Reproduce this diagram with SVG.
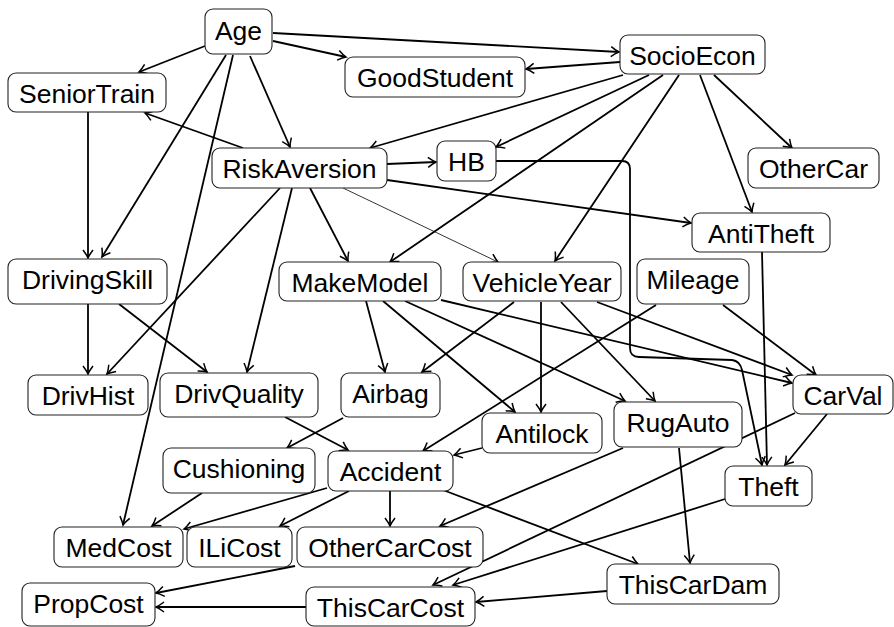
<svg xmlns="http://www.w3.org/2000/svg" width="894" height="627" viewBox="0 0 894 627">
<style>
.n rect{fill:#fff;stroke:#222;stroke-width:1.1}
.n text{font-family:"Liberation Sans",Arial,sans-serif;font-size:26.5px;text-anchor:middle;fill:#000}
.e path{fill:none;stroke:#000;stroke-width:1.8;marker-end:url(#a)}
.e path.thin{stroke-width:0.8}
</style>
<defs>
<marker id="a" viewBox="-10 -6 12 12" refX="0" refY="0" markerWidth="12" markerHeight="12" markerUnits="userSpaceOnUse" orient="auto">
<path d="M-8,-5 Q-3,-1.2 0,0 Q-3,1.2 -8,5" fill="none" stroke="#000" stroke-width="1.5"/>
</marker>
</defs>
<rect width="894" height="627" fill="#fff"/>
<g class="e" id="edges">
<path d="M205,46 L139,72"/>
<path d="M273,41 L346,57"/>
<path d="M273,33 L619,52"/>
<path d="M250,56 L290,147"/>
<path d="M226,55 L102,257"/>
<path d="M233,55 L123,525"/>
<path d="M243,148 L145,113"/>
<path d="M620,62 L526,69"/>
<path d="M623,75 L370,148"/>
<path d="M649,75 L496,147"/>
<path d="M663,75 L390,262"/>
<path d="M679,75 L555,261"/>
<path d="M700,75 L752,212"/>
<path d="M714,75 L792,148"/>
<path d="M387,164 L436,162"/>
<path d="M387,180 L691,223"/>
<path class="thin" d="M343,188 L498,262"/>
<path d="M310,188 L348,261"/>
<path d="M292,188 L247,372"/>
<path d="M280,188 L107,374"/>
<path d="M88,112 L88,258"/>
<path d="M88,304 L88,374"/>
<path d="M119,304 L207,372"/>
<path d="M496,161 L622,161 Q630,161 630,169 L630,348 Q630,357 639,357 L732,360 Q740,361 742,370 L762,465"/>
<path d="M366,301 L385,372"/>
<path d="M383,301 L515,412"/>
<path d="M405,301 L625,401"/>
<path d="M441,300 L792,383"/>
<path d="M597,302 L792,375"/>
<path d="M723,305 L816,375"/>
<path d="M656,305 L423,451"/>
<path d="M514,302 L422,372"/>
<path d="M541,302 L541,412"/>
<path d="M561,302 L655,401"/>
<path d="M482,448 L454,455"/>
<path d="M285,417 L348,450"/>
<path d="M343,418 L287,448"/>
<path d="M202,493 L152,526"/>
<path d="M327,488 L184,529"/>
<path d="M349,491 L280,526"/>
<path d="M390,491 L390,526"/>
<path d="M443,490 L638,564"/>
<path d="M623,448 L440,526"/>
<path d="M679,448 L690,563"/>
<path d="M827,414 L785,465"/>
<path d="M795,413 L433,585"/>
<path d="M725,499 L453,585"/>
<path d="M607,591 L476,602"/>
<path d="M306,607 L156,607"/>
<path d="M295,566 L156,593"/>
<path d="M762,252 L767,465"/>
</g>
<g class="n" id="Age"><rect x="205" y="9" width="67" height="45" rx="8"/><text x="238.5" y="40">Age</text></g>
<g class="n" id="SeniorTrain"><rect x="8" y="73" width="158" height="39" rx="8"/><text x="87" y="103">SeniorTrain</text></g>
<g class="n" id="GoodStudent"><rect x="345" y="57" width="180" height="40" rx="8"/><text x="435" y="87">GoodStudent</text></g>
<g class="n" id="SocioEcon"><rect x="620" y="35" width="145" height="39" rx="8"/><text x="692.5" y="65">SocioEcon</text></g>
<g class="n" id="RiskAversion"><rect x="212" y="148" width="175" height="40" rx="8"/><text x="299.5" y="178">RiskAversion</text></g>
<g class="n" id="HB"><rect x="437" y="141" width="59" height="40" rx="8"/><text x="466.5" y="171">HB</text></g>
<g class="n" id="OtherCar"><rect x="748" y="148" width="131" height="40" rx="8"/><text x="813.5" y="178">OtherCar</text></g>
<g class="n" id="AntiTheft"><rect x="692" y="213" width="138" height="39" rx="8"/><text x="761" y="243">AntiTheft</text></g>
<g class="n" id="DrivingSkill"><rect x="8" y="259" width="159" height="45" rx="8"/><text x="87.5" y="289">DrivingSkill</text></g>
<g class="n" id="MakeModel"><rect x="279" y="262" width="162" height="39" rx="8"/><text x="360" y="292">MakeModel</text></g>
<g class="n" id="VehicleYear"><rect x="463" y="262" width="158" height="39" rx="8"/><text x="542" y="292">VehicleYear</text></g>
<g class="n" id="Mileage"><rect x="637" y="259" width="112" height="45" rx="8"/><text x="693" y="289">Mileage</text></g>
<g class="n" id="DrivHist"><rect x="28" y="375" width="120" height="40" rx="8"/><text x="88" y="405">DrivHist</text></g>
<g class="n" id="DrivQuality"><rect x="160" y="373" width="158" height="44" rx="8"/><text x="239" y="403">DrivQuality</text></g>
<g class="n" id="Airbag"><rect x="341" y="373" width="99" height="44" rx="8"/><text x="390.5" y="403">Airbag</text></g>
<g class="n" id="CarVal"><rect x="793" y="375" width="100" height="39" rx="8"/><text x="843" y="405">CarVal</text></g>
<g class="n" id="RugAuto"><rect x="614" y="402" width="128" height="45" rx="8"/><text x="678" y="432">RugAuto</text></g>
<g class="n" id="Antilock"><rect x="482" y="413" width="120" height="40" rx="8"/><text x="542" y="443">Antilock</text></g>
<g class="n" id="Cushioning"><rect x="163" y="448" width="152" height="45" rx="8"/><text x="239" y="478">Cushioning</text></g>
<g class="n" id="Accident"><rect x="328" y="451" width="125" height="40" rx="8"/><text x="390.5" y="481">Accident</text></g>
<g class="n" id="Theft"><rect x="725" y="466" width="87" height="40" rx="8"/><text x="768.5" y="496">Theft</text></g>
<g class="n" id="MedCost"><rect x="54" y="527" width="129" height="40" rx="8"/><text x="118.5" y="557">MedCost</text></g>
<g class="n" id="ILiCost"><rect x="187" y="527" width="105" height="40" rx="8"/><text x="239.5" y="557">ILiCost</text></g>
<g class="n" id="OtherCarCost"><rect x="297" y="527" width="186" height="40" rx="8"/><text x="390" y="557">OtherCarCost</text></g>
<g class="n" id="ThisCarDam"><rect x="607" y="564" width="172" height="40" rx="8"/><text x="693" y="594">ThisCarDam</text></g>
<g class="n" id="PropCost"><rect x="22" y="583" width="133" height="43" rx="8"/><text x="88.5" y="613">PropCost</text></g>
<g class="n" id="ThisCarCost"><rect x="306" y="587" width="169" height="39" rx="8"/><text x="390.5" y="617">ThisCarCost</text></g>
</svg>
